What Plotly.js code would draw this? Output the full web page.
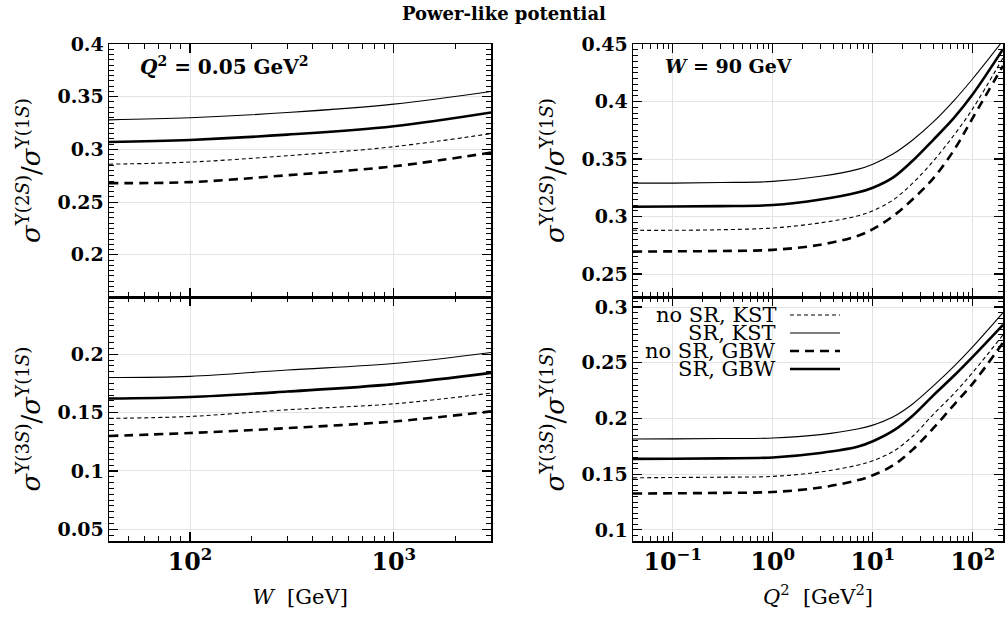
<!DOCTYPE html>
<html>
<head>
<meta charset="utf-8">
<script src="https://cdn.plot.ly/plotly-3.0.1.min.js"></script>
<style>html,body{margin:0;padding:0;background:#fff;}#chart{width:1008px;height:620px;}</style>
</head>
<body>
<div id="chart"></div>
<script>
// ---------------- data ----------------
const seriesNames = ['no SR, KST', 'SR, KST', 'no SR, GBW', 'SR, GBW'];

// left panels: energy dependence at Q^2 = 0.05 GeV^2
const W = [40, 100, 300, 1000, 3000];
const w2S_noSR_KST = [0.286, 0.288, 0.294, 0.3026, 0.315];
const w2S_SR_KST   = [0.328, 0.330, 0.335, 0.343, 0.355];
const w2S_noSR_GBW = [0.268, 0.269, 0.2755, 0.284, 0.297];
const w2S_SR_GBW   = [0.307, 0.309, 0.314, 0.322, 0.335];

const w3S_noSR_KST = [0.145, 0.1467, 0.1524, 0.1575, 0.1667];
const w3S_SR_KST   = [0.180, 0.181, 0.1865, 0.192, 0.2015];
const w3S_noSR_GBW = [0.130, 0.1325, 0.1367, 0.1424, 0.151];
const w3S_SR_GBW   = [0.162, 0.1633, 0.168, 0.1744, 0.184];

// right panels: Q^2 dependence at W = 90 GeV
const Q2 = [0.04, 0.1, 0.3, 1, 3, 7, 10, 16, 25, 40, 65, 100, 200];
const q2S_noSR_KST = [0.288, 0.288, 0.2885, 0.290, 0.2945, 0.3005, 0.305, 0.3145, 0.329, 0.348, 0.371, 0.394, 0.438];
const q2S_SR_KST   = [0.329, 0.329, 0.3295, 0.3305, 0.335, 0.341, 0.3455, 0.3545, 0.3665, 0.382, 0.401, 0.420, 0.453];
const q2S_noSR_GBW = [0.2695, 0.2697, 0.270, 0.271, 0.2755, 0.283, 0.289, 0.3005, 0.315, 0.333, 0.358, 0.386, 0.431];
const q2S_SR_GBW   = [0.3085, 0.3087, 0.309, 0.310, 0.3148, 0.3208, 0.325, 0.334, 0.3485, 0.3665, 0.386, 0.4065, 0.4455];

const q3S_noSR_KST = [0.1467, 0.147, 0.1473, 0.148, 0.152, 0.158, 0.162, 0.1705, 0.184, 0.2035, 0.2225, 0.2415, 0.275];
const q3S_SR_KST   = [0.1815, 0.1817, 0.182, 0.1824, 0.1855, 0.1905, 0.194, 0.2015, 0.213, 0.229, 0.247, 0.2645, 0.295];
const q3S_noSR_GBW = [0.1326, 0.1328, 0.1332, 0.134, 0.138, 0.1445, 0.149, 0.158, 0.172, 0.191, 0.2125, 0.2315, 0.268];
const q3S_SR_GBW   = [0.1637, 0.1638, 0.1642, 0.165, 0.169, 0.1745, 0.1795, 0.189, 0.2025, 0.2205, 0.2385, 0.2555, 0.284];

// ---------------- styles ----------------
const lineStyles = {
  'no SR, KST': {color: '#000', width: 1.1, dash: '4px,3px'},
  'SR, KST':    {color: '#000', width: 1.1, dash: 'solid'},
  'no SR, GBW': {color: '#000', width: 2.6, dash: '9px,6px'},
  'SR, GBW':    {color: '#000', width: 2.6, dash: 'solid'}
};
const FONT = 'DejaVu Serif';
const W_PX = 1008, H_PX = 620;

const panels = [
  {x: W,  xa: 'x',  ya: 'y',  ys: [w2S_noSR_KST, w2S_SR_KST, w2S_noSR_GBW, w2S_SR_GBW]},
  {x: W,  xa: 'x2', ya: 'y2', ys: [w3S_noSR_KST, w3S_SR_KST, w3S_noSR_GBW, w3S_SR_GBW]},
  {x: Q2, xa: 'x3', ya: 'y3', ys: [q2S_noSR_KST, q2S_SR_KST, q2S_noSR_GBW, q2S_SR_GBW]},
  {x: Q2, xa: 'x4', ya: 'y4', ys: [q3S_noSR_KST, q3S_SR_KST, q3S_noSR_GBW, q3S_SR_GBW]}
];

const traces = [];
panels.forEach(p => {
  p.ys.forEach((y, i) => {
    traces.push({
      type: 'scatter', mode: 'lines', x: p.x, y: y,
      xaxis: p.xa, yaxis: p.ya, name: seriesNames[i],
      line: Object.assign({shape: 'spline', smoothing: 1}, lineStyles[seriesNames[i]]),
      showlegend: false, hoverinfo: 'skip'
    });
  });
});

const tickFont = {family: FONT, size: 19, color: '#000', weight: 'bold'};
const titleFont = {family: FONT, size: 26, color: '#000'};
const powerLabels = {'1': '10<sup>0</sup>', '10': '10<sup>1</sup>'};

function xAxis(domain, anchor, range, showLabels, title) {
  const a = {
    domain: domain, anchor: anchor, type: 'log', range: range,
    dtick: 1, exponentformat: 'power', showexponent: 'all', labelalias: powerLabels,
    showline: true, linecolor: '#000', linewidth: 1.5, mirror: 'ticks',
    ticks: 'inside', ticklen: 9, tickwidth: 1.2, tickcolor: '#000',
    showgrid: true, gridcolor: '#e3e3e3', gridwidth: 1,
    zeroline: false, showticklabels: showLabels, tickfont: tickFont,
    minor: {dtick: 'D1', ticks: 'inside', ticklen: 5, tickwidth: 1, tickcolor: '#000', showgrid: false}
  };
  if (title) a.title = {text: title, font: {family: FONT, size: 21, color: '#000'}, standoff: 14};
  return a;
}
function yAxis(domain, anchor, range, title) {
  return {
    domain: domain, anchor: anchor, range: range, dtick: 0.05,
    showline: true, linecolor: '#000', linewidth: 1.5, mirror: 'ticks',
    ticks: 'inside', ticklen: 9, tickwidth: 1.2, tickcolor: '#000',
    showgrid: true, gridcolor: '#e3e3e3', gridwidth: 1,
    zeroline: false, tickfont: tickFont,
    minor: {dtick: 0.005, ticks: 'inside', ticklen: 5, tickwidth: 1, tickcolor: '#000', showgrid: false},
    title: {text: title, font: titleFont, standoff: 9}
  };
}

const xL = [109 / W_PX, 491 / W_PX];
const xR = [633 / W_PX, 1003 / W_PX];
const yT = [1 - 297 / H_PX, 1 - 44 / H_PX];
const yB = [1 - 541 / H_PX, 1 - 297 / H_PX];
const y2Title = '<i>σ</i><sup>Υ(2<i>S</i>)</sup>/<i>σ</i><sup>Υ(1<i>S</i>)</sup>';
const y3Title = '<i>σ</i><sup>Υ(3<i>S</i>)</sup>/<i>σ</i><sup>Υ(1<i>S</i>)</sup>';

const annotations = [
  {xref: 'paper', yref: 'paper', x: 138 / W_PX, y: 1 - 66 / H_PX, xanchor: 'left', yanchor: 'middle',
   text: '<b><i>Q</i><sup>2</sup> = 0.05 GeV<sup>2</sup></b>', showarrow: false,
   font: {family: FONT, size: 20, color: '#000'}},
  {xref: 'paper', yref: 'paper', x: 663 / W_PX, y: 1 - 66 / H_PX, xanchor: 'left', yanchor: 'middle',
   text: '<b><i>W</i> = 90 GeV</b>', showarrow: false,
   font: {family: FONT, size: 19, color: '#000'}}
];
const shapes = [];
// custom legend (text right-aligned, sample line on the right)
const legendRows = [315, 333, 351, 369];
seriesNames.forEach((n, i) => {
  const yy = 1 - legendRows[i] / H_PX;
  annotations.push({xref: 'paper', yref: 'paper', x: 778 / W_PX, y: yy, xanchor: 'right', yanchor: 'middle',
    text: n, showarrow: false, font: {family: FONT, size: 21, color: '#000'}});
  shapes.push({type: 'line', xref: 'paper', yref: 'paper', x0: 790 / W_PX, x1: 840 / W_PX, y0: yy, y1: yy,
    line: lineStyles[n]});
});

const layout = {
  width: W_PX, height: H_PX,
  margin: {l: 0, r: 0, t: 0, b: 0},
  paper_bgcolor: '#fff', plot_bgcolor: '#fff',
  showlegend: false,
  title: {text: 'Power-like potential', x: 0.5, xanchor: 'center', y: 1 - 14 / H_PX, yanchor: 'middle',
          font: {family: FONT, size: 18, color: '#000', weight: 'bold'}},
  xaxis:  xAxis(xL, 'y',  [Math.log10(40), Math.log10(3000)], false),
  yaxis:  yAxis(yT, 'x',  [0.16, 0.4], y2Title),
  xaxis2: xAxis(xL, 'y2', [Math.log10(40), Math.log10(3000)], true, '<i>W</i>  [GeV]'),
  yaxis2: yAxis(yB, 'x2', [0.04, 0.249], y3Title),
  xaxis3: xAxis(xR, 'y3', [Math.log10(0.04), Math.log10(200)], false),
  yaxis3: yAxis(yT, 'x3', [0.23, 0.45], y2Title),
  xaxis4: xAxis(xR, 'y4', [Math.log10(0.04), Math.log10(200)], true, '<i>Q</i><sup>2</sup>  [GeV<sup>2</sup>]'),
  yaxis4: yAxis(yB, 'x4', [0.09, 0.309], y3Title),
  annotations: annotations,
  shapes: shapes
};

Plotly.newPlot('chart', traces, layout, {displayModeBar: false, staticPlot: true});
</script>
</body>
</html>
